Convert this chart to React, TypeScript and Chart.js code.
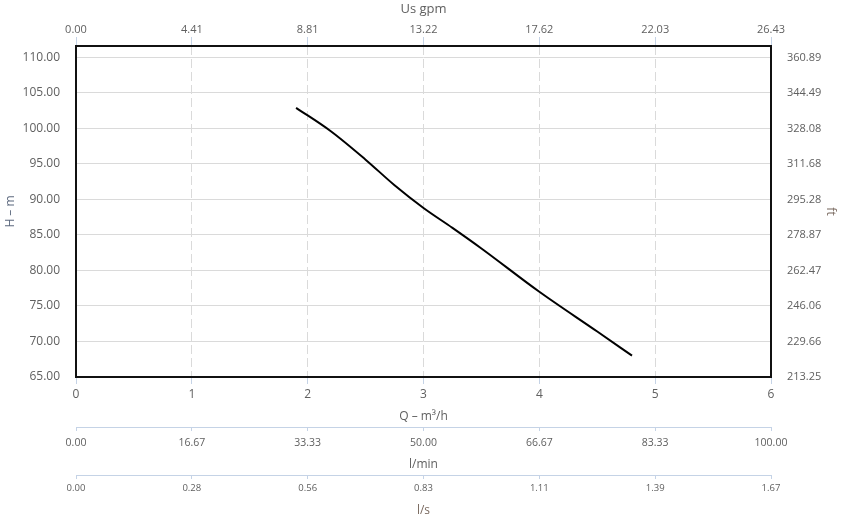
import React, { useEffect, useRef } from "react";
import { Chart, registerables } from "chart.js";

Chart.register(...registerables);

// Pump curve: flow Q (m³/h) vs head H (m)
const flowQ = [1.9, 2.2, 2.5, 2.75, 3.0, 3.25, 3.5, 4.0, 4.5, 4.8];
const headH = [102.9, 99.6, 95.6, 92.0, 88.8, 86.0, 83.1, 77.0, 71.4, 68.0];

// Axis ticks
const qTicks = [0, 1, 2, 3, 4, 5, 6];
const headTicks = [65, 70, 75, 80, 85, 90, 95, 100, 105, 110];
const ftLabels = ["213.25", "229.66", "246.06", "262.47", "278.87", "295.28", "311.68", "328.08", "344.49", "360.89"];
const gpmLabels = ["0.00", "4.41", "8.81", "13.22", "17.62", "22.03", "26.43"];
const lminLabels = ["0.00", "16.67", "33.33", "50.00", "66.67", "83.33", "100.00"];
const lsLabels = ["0.00", "0.28", "0.56", "0.83", "1.11", "1.39", "1.67"];

const Q_MIN = 0;
const Q_MAX = 6;
const H_MIN = 65;
const H_MAX = 111.6;

const FONT = "'Open Sans', 'DejaVu Sans', sans-serif";
const LABEL = "#606060";
const AXIS_LINE = "#c5d3e6";
const GRID = "#dadada";

const framePlugin = {
  id: "frame",
  afterDatasetsDraw(chart: any) {
    const { ctx, chartArea } = chart;
    ctx.save();
    ctx.strokeStyle = "#111111";
    ctx.lineWidth = 2;
    ctx.strokeRect(chartArea.left, chartArea.top, chartArea.right - chartArea.left, chartArea.bottom - chartArea.top);
    ctx.restore();
  },
};

const qTickSetter = (scale: any) => {
  scale.ticks = qTicks.map((v) => ({ value: v }));
};

export default function App() {
  const ref = useRef<HTMLCanvasElement | null>(null);

  useEffect(() => {
    if (!ref.current) return;
    const chart = new Chart(ref.current, {
      type: "line",
      data: {
        datasets: [
          {
            data: flowQ.map((q, i) => ({ x: q, y: headH[i] })),
            borderColor: "#000000",
            borderWidth: 2,
            pointRadius: 0,
            fill: false,
            cubicInterpolationMode: "monotone",
            xAxisID: "x",
            yAxisID: "y",
          },
        ],
      },
      options: {
        responsive: false,
        animation: false,
        devicePixelRatio: 1,
        layout: { padding: 0 },
        plugins: { legend: { display: false }, tooltip: { enabled: false } },
        scales: {
          x: {
            type: "linear",
            position: "bottom",
            weight: 0,
            min: Q_MIN,
            max: Q_MAX,
            afterBuildTicks: qTickSetter,
            afterFit: (s: any) => { s.height = 50; },
            ticks: {
              autoSkip: false,
              maxRotation: 0,
              padding: 3,
              color: LABEL,
              font: { family: FONT, size: 12 },
              callback: (v: any) => String(v),
            },
            grid: { color: GRID, tickColor: AXIS_LINE, tickLength: 7, drawTicks: true },
            border: { display: false, dash: [9, 4] },
            title: {
              display: true,
              text: "Q – m³/h",
              color: LABEL,
              font: { family: FONT, size: 12 },
              padding: { top: 0, bottom: 3 },
            },
          },
          lmin: {
            type: "linear",
            position: "bottom",
            weight: 1,
            min: Q_MIN,
            max: Q_MAX,
            afterBuildTicks: qTickSetter,
            afterFit: (s: any) => { s.height = 48; },
            ticks: {
              autoSkip: false,
              maxRotation: 0,
              padding: 6,
              color: LABEL,
              font: { family: FONT, size: 10.5 },
              callback: (_v: any, i: number) => lminLabels[i],
            },
            grid: { drawOnChartArea: false, color: AXIS_LINE, tickColor: AXIS_LINE, tickLength: 4 },
            border: { display: true, color: AXIS_LINE, width: 1 },
            title: {
              display: true,
              text: "l/min",
              color: LABEL,
              font: { family: FONT, size: 12 },
              padding: { top: 0, bottom: 3 },
            },
          },
          ls: {
            type: "linear",
            position: "bottom",
            weight: 2,
            min: Q_MIN,
            max: Q_MAX,
            afterBuildTicks: qTickSetter,
            afterFit: (s: any) => { s.height = 48; },
            ticks: {
              autoSkip: false,
              maxRotation: 0,
              padding: 4,
              color: LABEL,
              font: { family: FONT, size: 9.5 },
              callback: (_v: any, i: number) => lsLabels[i],
            },
            grid: { drawOnChartArea: false, color: AXIS_LINE, tickColor: AXIS_LINE, tickLength: 4 },
            border: { display: true, color: AXIS_LINE, width: 1 },
            title: {
              display: true,
              text: "l/s",
              color: "#7a6a60",
              font: { family: FONT, size: 12 },
              padding: { top: 0, bottom: 5 },
            },
          },
          gpm: {
            type: "linear",
            position: "top",
            min: Q_MIN,
            max: Q_MAX,
            afterBuildTicks: qTickSetter,
            afterFit: (s: any) => { s.height = 46; },
            ticks: {
              autoSkip: false,
              maxRotation: 0,
              padding: 1,
              color: LABEL,
              font: { family: FONT, size: 11 },
              callback: (_v: any, i: number) => gpmLabels[i],
            },
            grid: { drawOnChartArea: false, color: AXIS_LINE, tickColor: AXIS_LINE, tickLength: 9 },
            border: { display: true, color: AXIS_LINE, width: 1 },
            title: {
              display: true,
              text: "Us gpm",
              color: LABEL,
              font: { family: FONT, size: 13 },
              padding: { top: 1, bottom: 0 },
            },
          },
          y: {
            type: "linear",
            position: "left",
            min: H_MIN,
            max: H_MAX,
            afterBuildTicks: (s: any) => { s.ticks = headTicks.map((v) => ({ value: v })); },
            afterFit: (s: any) => { s.width = 76; },
            ticks: {
              autoSkip: false,
              padding: 16,
              color: LABEL,
              font: { family: FONT, size: 12 },
              callback: (v: any) => Number(v).toFixed(2),
            },
            grid: { color: GRID, drawTicks: false },
            border: { display: false },
            title: {
              display: true,
              text: "H – m",
              color: "#5f6b80",
              font: { family: FONT, size: 12 },
              padding: { top: 3, bottom: 0 },
            },
          },
          ft: {
            type: "linear",
            position: "right",
            min: H_MIN,
            max: H_MAX,
            afterBuildTicks: (s: any) => { s.ticks = headTicks.map((v) => ({ value: v })); },
            afterFit: (s: any) => { s.width = 73; },
            ticks: {
              autoSkip: false,
              padding: 16,
              color: LABEL,
              font: { family: FONT, size: 11 },
              callback: (_v: any, i: number) => ftLabels[i],
            },
            grid: { drawOnChartArea: false, drawTicks: false },
            border: { display: false },
            title: {
              display: true,
              text: "ft",
              color: "#7a6a60",
              font: { family: FONT, size: 12 },
              padding: { top: 6, bottom: 0 },
            },
          },
        },
      } as any,
      plugins: [framePlugin],
    });
    return () => chart.destroy();
  }, []);

  return (
    <div style={{ position: "absolute", left: 0, top: 0, width: 844, height: 523, background: "#ffffff" }}>
      <canvas ref={ref} width={844} height={523} style={{ display: "block", width: 844, height: 523 }} />
    </div>
  );
}
